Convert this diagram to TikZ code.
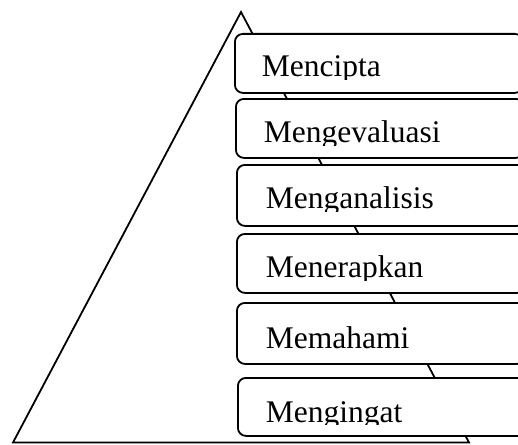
\documentclass[tikz,border=0pt]{standalone}
\usepackage{fontspec}
\setmainfont{Liberation Serif}

\tikzset{
    tier/.style={draw,rectangle,rounded corners=8pt,fill=white,line width=1.8pt,
        anchor=north west,inner sep=0pt,minimum width=288pt},
    tiertext/.style={anchor=base west,inner sep=0pt,
        font=\fontsize{31.5}{36}\selectfont}
}

\begin{document}
\begin{tikzpicture}[x=1pt,y=-1pt,line width=1.8pt]
    \useasboundingbox (0,0) rectangle (518,444);
    \clip (0,0) rectangle (518,444);

    % the pyramid
    \coordinate (apex) at (241,12);
    \coordinate (left) at (13,442.5);
    \coordinate (right) at (469,442.5);
    \draw (apex) -- (left) -- (right) -- cycle;

    % the six levels, top down
    \node[tier,minimum height=59pt] (mencipta) at (234,33) {};
    \node[tier,minimum height=59pt] (mengevaluasi) at (235,98) {};
    \node[tier,minimum height=61pt] (menganalisis) at (236,164) {};
    \node[tier,minimum height=59pt] (menerapkan) at (236,233) {};
    \node[tier,minimum height=61pt] (memahami) at (236,302) {};
    \node[tier,minimum height=58pt] (mengingat) at (237,377) {};

    \begin{scope}
        \clip (0,33) rectangle (518,79) (0,98) rectangle (518,145)
              (0,164) rectangle (518,211) (0,233) rectangle (518,280)
              (0,302) rectangle (518,351) (0,377) rectangle (518,424);
        \node[tiertext] (t1) at (261,76) {Mencipta};
        \node[tiertext] (t2) at (263,142) {Mengevaluasi};
        \node[tiertext] (t3) at (265,208) {Menganalisis};
        \node[tiertext] (t4) at (265,277) {Menerapkan};
        \node[tiertext] (t5) at (265,348) {Memahami};
        \node[tiertext] (t6) at (265,422) {Mengingat};
    \end{scope}
\end{tikzpicture}
\end{document}
